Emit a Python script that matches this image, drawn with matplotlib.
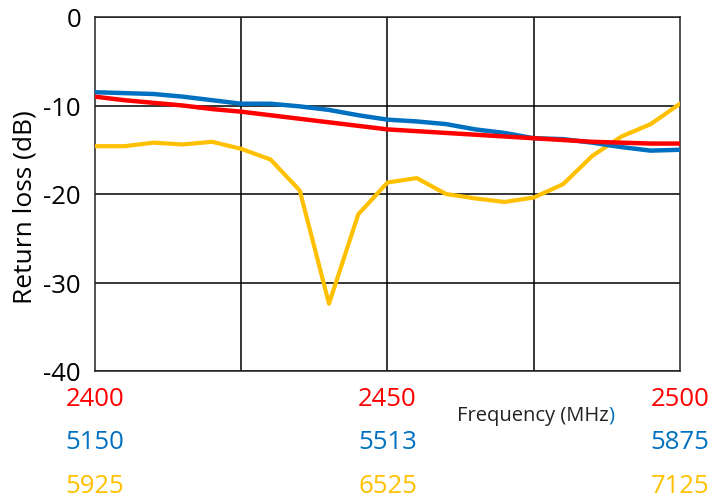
"""
Return loss vs frequency for three bands, sharing one normalised x axis
"""

import matplotlib
matplotlib.use('Agg')
from matplotlib import pyplot as plt
from matplotlib.transforms import blended_transform_factory, offset_copy

# --------------------------------------------------------------------------------------------------
# Data (21 points spread evenly across each band)
# --------------------------------------------------------------------------------------------------

steps = list(range(21))

loss_24 = [-9.0, -9.4, -9.7, -10.0, -10.4, -10.7, -11.1, -11.5, -11.9, -12.3, -12.7,
           -12.9, -13.1, -13.3, -13.5, -13.7, -13.9, -14.1, -14.2, -14.3, -14.3]
loss_5 = [-8.5, -8.6, -8.7, -9.0, -9.4, -9.8, -9.8, -10.1, -10.5, -11.1, -11.6,
          -11.8, -12.1, -12.7, -13.1, -13.7, -13.8, -14.2, -14.7, -15.1, -15.0]
loss_6 = [-14.6, -14.6, -14.2, -14.4, -14.1, -14.9, -16.1, -19.6, -32.4, -22.3, -18.7,
          -18.2, -20.0, -20.5, -20.9, -20.4, -18.9, -15.7, -13.5, -12.1, -9.8]

labels_24 = ['2400', '2450', '2500']
labels_5 = ['5150', '5513', '5875']
labels_6 = ['5925', '6525', '7125']
label_steps = [0, 10, 20]

y_ticks = [0, -10, -20, -30, -40]

red = '#FF0000'
blue = '#0070C0'
yellow = '#FFC000'

# --------------------------------------------------------------------------------------------------
# Plot
# --------------------------------------------------------------------------------------------------

plt.rcParams['font.family'] = ['Open Sans', 'DejaVu Sans']

fig = plt.figure(figsize=(7.26, 5.02), dpi=100)
ax = fig.add_axes([95 / 726, 1 - 372 / 502, 585 / 726, 354 / 502])

ax.plot(steps, loss_6, color=yellow, lw=3.0, zorder=3)
ax.plot(steps, loss_5, color=blue, lw=3.2, zorder=4)
ax.plot(steps, loss_24, color=red, lw=3.2, zorder=5)

ax.set_xlim(0, 20)
ax.set_ylim(-40, 0)
ax.set_xticks([5, 10, 15])
ax.set_xticklabels([])
ax.set_yticks(y_ticks)
ax.set_yticklabels([str(t) for t in y_ticks], fontsize=18.5)
ax.tick_params(axis='both', length=0, pad=10)
ax.grid(True, color='black', lw=1.1)
for s in ax.spines.values():
    s.set_color('#222222')
    s.set_linewidth(1.1)

fig.text(25 / 726, 1 - 207 / 502, 'Return loss (dB)', rotation=90,
         ha='center', va='center', fontsize=19)

# Three rows of coloured frequency labels under the axis
trans = blended_transform_factory(ax.transData, fig.transFigure)
rows = [(labels_24, red, 400), (labels_5, blue, 443), (labels_6, yellow, 487)]
for labels, color, ypix in rows:
    for xs, lab in zip(label_steps, labels):
        ax.text(xs, 1 - ypix / 502, lab, transform=trans, color=color,
                ha='center', va='center', fontsize=18.5, clip_on=False)

# Axis title, closing bracket is blue in the original
t = fig.text(457 / 726, 1 - 416 / 502, 'Frequency (MHz', ha='left', va='center',
             fontsize=14.5, color='#222222')
fig.canvas.draw()
bb = t.get_window_extent()
fig.text(bb.x1 / 726, 1 - 416 / 502, ')', ha='left', va='center',
         fontsize=14.5, color=blue)

fig.savefig('out.png', dpi=100)
